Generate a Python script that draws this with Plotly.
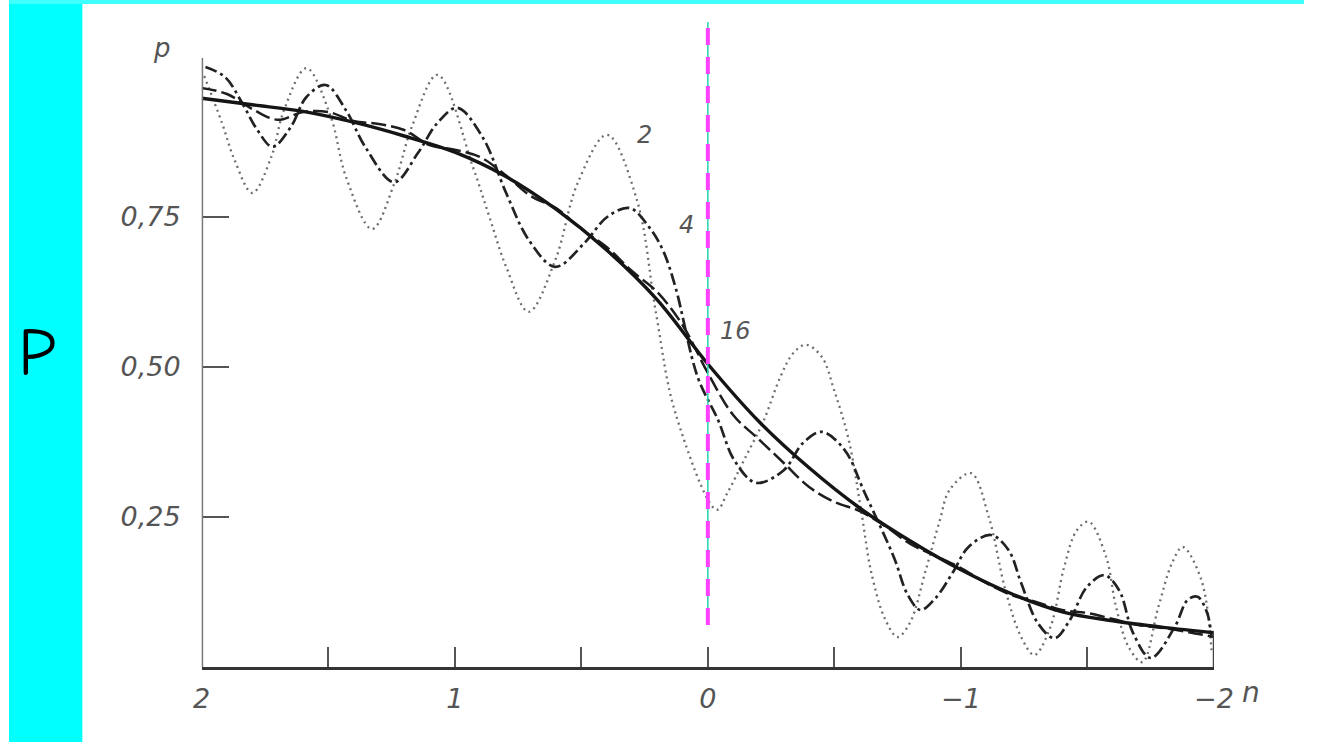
import plotly.graph_objects as go

# ---- data -------------------------------------------------------------
# limiting (smooth) curve
n_inf = [2.0, 1.8, 1.6, 1.4, 1.2, 1.0, 0.8, 0.6, 0.4, 0.2, 0.0,
         -0.2, -0.4, -0.6, -0.8, -1.0, -1.2, -1.4, -1.6, -1.8, -2.0]
p_inf = [0.948, 0.937, 0.926, 0.908, 0.885, 0.858, 0.818, 0.763, 0.695, 0.612, 0.505,
         0.41, 0.332, 0.265, 0.21, 0.162, 0.122, 0.092, 0.077, 0.066, 0.057]

# curve "16"
n_16 = [2.0, 1.9, 1.8, 1.7, 1.6, 1.5, 1.4, 1.3, 1.2, 1.1, 1.0, 0.9, 0.8, 0.7, 0.6, 0.5,
        0.4, 0.3, 0.2, 0.1, 0.0, -0.1, -0.2, -0.3, -0.4, -0.5, -0.6, -0.7, -0.8, -0.9,
        -1.0, -1.1, -1.2, -1.3, -1.4, -1.5, -1.6, -1.7, -1.8, -1.9, -2.0]
p_16 = [0.965, 0.955, 0.93, 0.912, 0.925, 0.925, 0.91, 0.905, 0.895, 0.87, 0.862, 0.85,
        0.82, 0.785, 0.765, 0.73, 0.7, 0.66, 0.625, 0.57, 0.49, 0.42, 0.38, 0.34, 0.3,
        0.275, 0.26, 0.235, 0.205, 0.185, 0.165, 0.14, 0.12, 0.108, 0.095, 0.09, 0.08,
        0.07, 0.065, 0.058, 0.05]

# curve "4"
n_4 = [1.985, 1.907, 1.84, 1.78, 1.72, 1.648, 1.586, 1.51, 1.43, 1.354, 1.24, 1.145,
       1.068, 0.99, 0.89, 0.797, 0.708, 0.603, 0.487, 0.398, 0.309, 0.232, 0.178, 0.128,
       0.04, -0.04, -0.104, -0.19, -0.30, -0.375, -0.45, -0.54, -0.62, -0.735, -0.79,
       -0.84, -0.9, -0.967, -1.03, -1.118, -1.188, -1.238, -1.304, -1.37, -1.43, -1.497,
       -1.567, -1.625, -1.68, -1.75, -1.845, -1.896, -1.935, -1.973, -1.99]
p_4 = [1.0, 0.983, 0.94, 0.895, 0.867, 0.90, 0.95, 0.97, 0.928, 0.867, 0.808, 0.857,
       0.907, 0.932, 0.883, 0.79, 0.712, 0.667, 0.707, 0.75, 0.765, 0.733, 0.695, 0.633,
       0.483, 0.412, 0.345, 0.307, 0.328, 0.373, 0.392, 0.362, 0.29, 0.183, 0.12,
       0.095, 0.115, 0.157, 0.20, 0.22, 0.195, 0.14, 0.073, 0.048, 0.078, 0.133,
       0.153, 0.128, 0.057, 0.015, 0.067, 0.112, 0.117, 0.09, 0.05]

# curve "2"
n_2 = [1.99, 1.92, 1.87, 1.80, 1.725, 1.675, 1.586, 1.49, 1.43, 1.327, 1.238, 1.17,
       1.068, 0.928, 0.863, 0.797, 0.708, 0.603, 0.514, 0.398, 0.28, 0.205, 0.128,
       -0.035, -0.077, -0.143, -0.22, -0.286, -0.337, -0.387, -0.45, -0.5, -0.557,
       -0.607, -0.646, -0.70, -0.75, -0.80, -0.86, -0.917, -0.955, -1.04, -1.11, -1.176,
       -1.238, -1.29, -1.354, -1.408, -1.458, -1.505, -1.574, -1.613, -1.663, -1.717,
       -1.78, -1.834, -1.876, -1.95, -1.99]
p_2 = [0.985, 0.907, 0.845, 0.79, 0.85, 0.928, 0.998, 0.917, 0.817, 0.73, 0.807, 0.90,
       0.987, 0.833, 0.75, 0.667, 0.592, 0.678, 0.807, 0.887, 0.778, 0.59, 0.423,
       0.262, 0.29, 0.345, 0.41, 0.483, 0.523, 0.537, 0.517, 0.46, 0.378,
       0.257, 0.157, 0.08, 0.05, 0.075, 0.16, 0.245, 0.295, 0.323, 0.25, 0.128,
       0.05, 0.02, 0.067, 0.167, 0.228, 0.242, 0.183, 0.10, 0.033, 0.008,
       0.10, 0.173, 0.2, 0.145, 0.028]

# axis ticks and curve labels
x_ticks = [2, 1.5, 1, 0.5, 0, -0.5, -1, -1.5, -2]
x_tick_text = ["2", "", "1", "", "0", "", "\u22121", "", "\u22122"]
y_ticks = [0.25, 0.50, 0.75]
y_tick_text = ["0,25", "0,50", "0,75"]
curve_labels = ["2", "4", "16"]
label_n = [0.25, 0.085, -0.11]
label_p = [0.887, 0.737, 0.56]

# ---- figure -----------------------------------------------------------
W, H = 1324, 742
INK = "#151515"
TEXT = "#555555"
FONT = "DejaVu Sans"

fig = go.Figure()

fig.add_trace(go.Scatter(x=n_2, y=p_2, mode="lines", line_shape="spline",
                         line=dict(color="#6e6e6e", width=2.3, dash="2px,4px"),
                         hoverinfo="skip"))
fig.add_trace(go.Scatter(x=n_4, y=p_4, mode="lines", line_shape="spline",
                         line=dict(color="#222222", width=2.7, dash="12px,4px,3px,4px"),
                         hoverinfo="skip"))
fig.add_trace(go.Scatter(x=n_16, y=p_16, mode="lines", line_shape="spline",
                         line=dict(color="#1e1e1e", width=2.5, dash="15px,5px"),
                         hoverinfo="skip"))
fig.add_trace(go.Scatter(x=n_inf, y=p_inf, mode="lines", line_shape="spline",
                         line=dict(color=INK, width=3.4), hoverinfo="skip"))

shapes = [
    # cyan frame pieces
    dict(type="rect", xref="paper", yref="paper", x0=0, x1=75 / W, y0=0, y1=1,
         fillcolor="#00ffff", line=dict(width=0), layer="below"),
    dict(type="rect", xref="paper", yref="paper", x0=0, x1=1, y0=(H - 4) / H, y1=1,
         fillcolor="#40ffff", line=dict(width=0), layer="below"),
    # vertical axis line and right end stub
    dict(type="line", xref="x", yref="y", x0=2, x1=2, y0=0, y1=1.015,
         line=dict(color="#7a7a7a", width=3)),
    dict(type="line", xref="x", yref="y", x0=-2, x1=-2, y0=0, y1=0.06,
         line=dict(color="#444444", width=2.5)),
    # marker at n = 0
    dict(type="line", xref="x", yref="y", x0=0, x1=0, y0=0.07, y1=1.075,
         line=dict(color="#22d3b0", width=1.5)),
    dict(type="line", xref="x", yref="y", x0=0, x1=0, y0=0.07, y1=1.075,
         line=dict(color="#ff40ff", width=4, dash="17px,12px")),
]

annotations = []
for t, xn, yp in zip(curve_labels, label_n, label_p):
    annotations.append(dict(text=t, x=xn, y=yp, xref="x", yref="y", showarrow=False,
                            font=dict(family=FONT, size=24, color=TEXT, style="italic")))
annotations += [
    dict(text="p", x=156 / W, y=(H - 48) / H, xref="paper", yref="paper", showarrow=False,
         xanchor="center", yanchor="middle",
         font=dict(family=FONT, size=26, color=TEXT, style="italic")),
    dict(text="n", x=1270 / W, y=(H - 692) / H, xref="paper", yref="paper", showarrow=False,
         xanchor="center", yanchor="middle",
         font=dict(family=FONT, size=28, color=TEXT, style="italic")),
    dict(text="P", x=29 / W, y=(H - 353) / H, xref="paper", yref="paper", showarrow=False,
         xanchor="center", yanchor="middle",
         font=dict(family="Comic Neue, Comic Sans MS, Noto Sans", size=68, color="#000000")),
]

fig.update_layout(
    width=W, height=H, autosize=False,
    margin=dict(l=0, r=0, t=0, b=0),
    paper_bgcolor="white", plot_bgcolor="white",
    showlegend=False,
    shapes=shapes,
    annotations=annotations,
    xaxis=dict(domain=[197 / W, 1232 / W], range=[2, -2], showgrid=False, zeroline=False,
               showline=True, linecolor="#333333", linewidth=3,
               ticks="inside", ticklen=20, tickwidth=2, tickcolor="#555555",
               tickvals=x_ticks, ticktext=x_tick_text, ticklabelstandoff=6,
               tickfont=dict(family=FONT, size=27, color=TEXT, style="italic"),
               fixedrange=True),
    yaxis=dict(domain=[(H - 667) / H, (H - 22) / H], range=[0, 1.075], showgrid=False,
               zeroline=False, showline=False,
               ticks="inside", ticklen=27, tickwidth=2, tickcolor="#555555",
               tickvals=y_ticks, ticktext=y_tick_text, ticklabelstandoff=20,
               tickfont=dict(family=FONT, size=27, color=TEXT, style="italic"),
               fixedrange=True),
)

fig.write_html("out.html", config={"staticPlot": True})
